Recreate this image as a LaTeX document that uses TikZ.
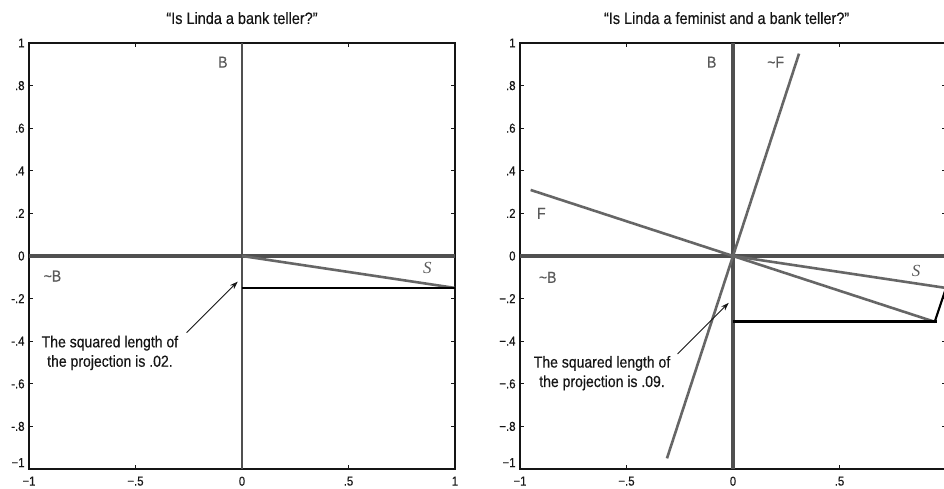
\documentclass[tikz,border=0pt]{standalone}
\usepackage{fontspec}
\setmainfont{Liberation Sans}[FakeStretch=0.88,FakeBold=0.4]
\newfontfamily\serifit{Liberation Serif}[Ligatures=TeX]
\usetikzlibrary{arrows.meta}
\definecolor{axisgray}{HTML}{505050}
\definecolor{vecgray}{HTML}{666666}
\definecolor{labgray}{HTML}{5A5A5A}
\definecolor{ink}{HTML}{151515}
\tikzset{
  frame/.style={draw=ink, line width=1.2bp},
  axisline/.style={draw=axisgray, line width=3.2bp},
  vecline/.style={draw=vecgray, line width=2.6bp},
  projline/.style={draw=black, line width=2.7bp},
  tickmark/.style={draw=ink, line width=0.8bp},
  ticklab/.style={font=\fontsize{13}{14}\selectfont, text=ink, inner sep=0pt},
  axlab/.style={font=\fontsize{16}{18}\selectfont, text=labgray, inner sep=0pt},
  slab/.style={font=\serifit\itshape\fontsize{17}{18}\selectfont, text=labgray, inner sep=0pt},
  note/.style={font=\fontsize{16}{19.5}\selectfont, align=center, text=ink, inner sep=0pt},
  pointer/.style={draw=ink, line width=0.9bp, -{Stealth[length=8bp,width=5.5bp]}},
  titlestyle/.style={font=\fontsize{16.5}{19}\selectfont, text=ink, inner sep=0pt}
}
\begin{document}
\begin{tikzpicture}
\useasboundingbox (0,0) rectangle (944bp,489bp);
\clip (0,0) rectangle (944bp,489bp);
\fill[white] (0,0) rectangle (944bp,489bp);

% ---------------- left panel ----------------
\begin{scope}[shift={(242bp,233bp)}, x=213bp, y=213bp]
  \node[titlestyle] (lt) at (0,1.117) {“Is Linda a bank teller?”};
  \draw[frame] (-1,-1) rectangle (1,1);
  \foreach \v in {-0.8,-0.6,-0.4,-0.2,0.2,0.4,0.6,0.8} {
    \draw[tickmark] (-1,\v) -- ++(0.02,0);
    \draw[tickmark] (1,\v) -- ++(-0.02,0);
  }
  \foreach \v in {-0.5,0.5} {
    \draw[tickmark] (\v,-1) -- ++(0,0.02);
    \draw[tickmark] (\v,1) -- ++(0,-0.02);
  }
  \foreach \v/\t [count=\i] in {1/1,0.8/.8,0.6/.6,0.4/.4,0.2/.2,0/0,-0.2/-.2,-0.4/-.4,-0.6/-.6,-0.8/-.8,-0.97/−1}
    \node[ticklab, anchor=east] (ly\i) at (-1.02,\v) {\t};
  \foreach \v/\t [count=\i] in {-1/−1,-0.5/−.5,0/0,0.5/.5,1/1}
    \node[ticklab, anchor=north] (lx\i) at (\v,-1.035) {\t};

  \coordinate (LO) at (0,0);
  \coordinate (LS) at (1,-0.15);
  \coordinate (LP) at (0,-0.15);
  \draw[axisline, line width=2.4bp] (0,-1) -- (0,1);
  \draw[axisline] (-1,0) -- (1,0);
  \draw[vecline] (LO) -- (LS);
  \draw[projline] (LP) -- (LS);

  \node[axlab] (lB) at (-0.09,0.91) {B};
  \node[axlab] (lnB) at (-0.89,-0.094) {\textasciitilde B};
  \node[slab] (lSl) at (0.87,-0.056) {S};

  \node[note] (lnote) at (-0.62,-0.455) {The squared length of\\the projection is .02.};
  \coordinate (La) at (-0.26,-0.36);
  \coordinate (Lb) at (-0.02,-0.12);
  \draw[pointer] (La) -- (Lb);
\end{scope}

% ---------------- right panel ----------------
\begin{scope}[shift={(733bp,233bp)}, x=213bp, y=213bp]
  \node[titlestyle] (rt) at (-0.03,1.117) {“Is Linda a feminist and a bank teller?”};
  \draw[frame] (-1,-1) rectangle (1,1);
  \foreach \v in {-0.8,-0.6,-0.4,-0.2,0.2,0.4,0.6,0.8} {
    \draw[tickmark] (-1,\v) -- ++(0.02,0);
    \draw[tickmark] (1,\v) -- ++(-0.02,0);
  }
  \foreach \v in {-0.5,0.5} {
    \draw[tickmark] (\v,-1) -- ++(0,0.02);
    \draw[tickmark] (\v,1) -- ++(0,-0.02);
  }
  \foreach \v/\t [count=\i] in {1/1,0.8/.8,0.6/.6,0.4/.4,0.2/.2,0/0,-0.2/−.2,-0.4/−.4,-0.6/−.6,-0.8/−.8,-0.97/−1}
    \node[ticklab, anchor=east] (ry\i) at (-1.02,\v) {\t};
  \foreach \v/\t [count=\i] in {-1/−1,-0.5/−.5,0/0,0.5/.5}
    \node[ticklab, anchor=north] (rx\i) at (\v,-1.035) {\t};

  \coordinate (RO) at (0,0);
  \coordinate (RS) at (1,-0.15);
  \coordinate (RF1) at (-0.95,0.31);
  \coordinate (RF2) at (0.947,-0.309);
  \coordinate (RN1) at (-0.31,-0.95);
  \coordinate (RN2) at (0.31,0.95);
  \coordinate (RP) at (0,-0.309);
  \draw[axisline] (0,-1) -- (0,1);
  \draw[axisline] (-1,0) -- (1,0);
  \draw[vecline] (RN1) -- (RN2);
  \draw[vecline] (RF1) -- (RF2);
  \draw[vecline] (RO) -- (RS);
  \draw[projline, line width=2.1bp] (RS) -- (RF2);
  \draw[projline] (RP) -- ([xshift=2bp]RF2);

  \node[axlab] (rB) at (-0.10,0.91) {B};
  \node[axlab] (rnF) at (0.20,0.91) {\textasciitilde F};
  \node[axlab] (rF) at (-0.90,0.20) {F};
  \node[axlab] (rnB) at (-0.87,-0.10) {\textasciitilde B};
  \node[slab] (rSl) at (0.86,-0.07) {S};

  \node[note] (rnote) at (-0.615,-0.55) {The squared length of\\the projection is .09.};
  \coordinate (Ra) at (-0.26,-0.46);
  \coordinate (Rb) at (-0.02,-0.22);
  \draw[pointer] (Ra) -- (Rb);
\end{scope}
\end{tikzpicture}
\end{document}
